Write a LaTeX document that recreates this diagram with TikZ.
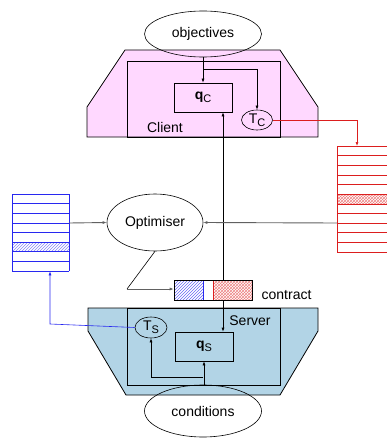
\documentclass[tikz,border=0pt]{standalone}
\usepackage{fontspec}
\setmainfont{Liberation Sans}
\usetikzlibrary{arrows.meta,patterns,shapes.geometric}
\definecolor{clientpink}{RGB}{255,216,255}
\definecolor{serverblue}{RGB}{178,212,230}
\definecolor{tabred}{RGB}{220,30,30}
\definecolor{tabblue}{RGB}{40,40,240}
\tikzset{
  every node/.style={font=\fontsize{14}{16}\selectfont},
  arr/.style={-{Latex[length=4pt,width=3pt]}},
  oval/.style={ellipse,draw,inner sep=0pt},
  qbox/.style={draw,rectangle,inner sep=0pt},
  frame/.style={draw,line width=0.8pt},
  grayline/.style={black!62,line width=0.9pt},
}
\newcommand{\subtxt}[1]{\raisebox{-0.45ex}{\fontsize{11}{12}\selectfont #1}}
\begin{document}
\begin{tikzpicture}[x=1pt,y=-1pt,line width=0.6pt]
\useasboundingbox (0,0) rectangle (387,441);
% Client
\draw[frame,fill=clientpink] (125,50) -- (280,50) -- (318,107) -- (318,137) -- (87,137) -- (87,107) -- cycle;
\draw[frame] (127,61) rectangle (280,137);
\node[oval,minimum width=117pt,minimum height=46pt] (obj) at (203,34) {objectives};
\node[qbox,minimum width=58pt,minimum height=29pt] (qc) at (203,97.5) {\textbf{q}\subtxt{C}};
\node[oval,minimum width=31pt,minimum height=20pt] (tc) at (257,120) {T\subtxt{C}};
\node (client) at (165,127) {Client};
% Server
\draw[frame,fill=serverblue] (88,308) -- (318,308) -- (318,331) -- (280,395) -- (126,395) -- (88,331) -- cycle;
\draw[frame] (127,308) rectangle (280,385);
\node[oval,minimum width=117pt,minimum height=52pt] (cond) at (203,411) {conditions};
\node[qbox,minimum width=58pt,minimum height=29pt] (qs) at (204,346.5) {\textbf{q}\subtxt{S}};
\node[oval,minimum width=32pt,minimum height=21pt] (ts) at (151,327.5) {T\subtxt{S}};
\node (server) at (250,321) {Server};
% Optimiser
\node[oval,minimum width=96pt,minimum height=57pt] (opt) at (155,222.5) {Optimiser};
% Contract
\fill[pattern=north east lines,pattern color=tabblue!70] (174,280) rectangle (203,300);
\fill[pattern=crosshatch,pattern color=tabred!55] (213,280) rectangle (252,300);
\draw[tabblue] (203,280) -- (203,300);
\draw[tabred] (213,280) -- (213,300);
\node[qbox,minimum width=78pt,minimum height=20pt] (contract) at (213,290) {};
\node[anchor=west] (clab) at (258,295) {contract};
% Blue table
\fill[pattern=north east lines,pattern color=tabblue!55] (12,242) rectangle (69,251.6);
\foreach \i in {0,...,8} \draw[tabblue] (12,{194+\i*9.625}) -- (69,{194+\i*9.625});
\draw[tabblue] (12,194) -- (12,271) (69,194) -- (69,271);
\node[inner sep=0pt,minimum width=57pt,minimum height=77pt] (btab) at (40.5,232.5) {};
% Red table
\fill[pattern=crosshatch,pattern color=tabred!55] (337,194) rectangle (387,203.6);
\foreach \i in {0,...,11} \draw[tabred] (337,{146+\i*9.64}) -- (387,{146+\i*9.64});
\draw[tabred] (337,146) -- (337,252);
\node[inner sep=0pt,minimum width=100pt,minimum height=106pt] (rtab) at (387,199) {};
\coordinate (rtabin) at (357,146);
% Connectors
\draw[arr] (obj.south) -- (qc.north);
\coordinate (br1) at (203,69);
\draw[arr] (br1) -| (tc.north);
\coordinate (cq) at (223,280);
\draw[arr] (cq) -- (cq |- qc.south);
\coordinate (cs) at (223,300);
\draw[arr] (cs) -- (cs |- qs.north);
\draw[tabred,arr] (tc.east) -| (rtabin);
\draw[arr] (cond.north -| qs.south) -- (qs.south);
\coordinate (br2) at (203,377);
\draw[arr] (br2) -| (ts.south);
\coordinate (bturn) at (50,324);
\draw[tabblue,arr] (ts.west) -- (bturn) -- (btab.south -| bturn);
\draw[grayline,arr] (12+57,223) -- (opt.west);
\draw[grayline,arr] (337,223) -- (opt.east);
\coordinate (kink) at (127,289);
\draw (opt.south) -- (kink);
\draw[grayline,arr] (kink) -- (contract.west |- kink);
\end{tikzpicture}
\end{document}
